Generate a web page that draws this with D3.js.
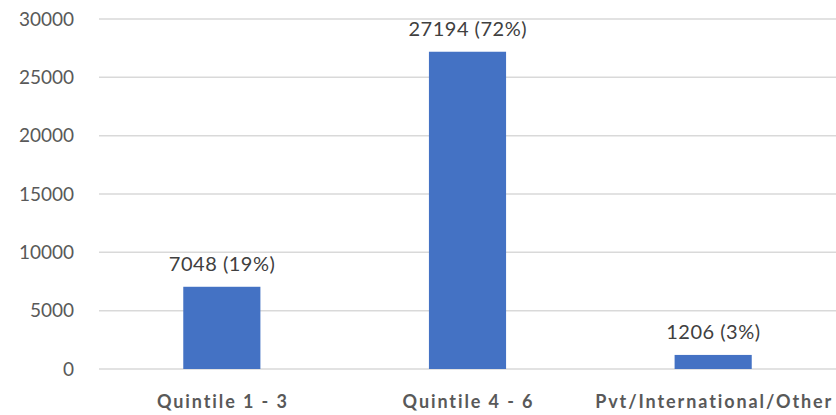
<!DOCTYPE html>
<html><head><meta charset="utf-8">
<script src="https://cdn.jsdelivr.net/npm/d3@7"></script>
<style>body{margin:0;background:#fff}svg{display:block}</style>
</head><body>
<script>
const categories = ["Quintile 1 - 3", "Quintile 4 - 6", "Pvt/International/Other"];
const values = [7048, 27194, 1206];
const percents = ["19%", "72%", "3%"];
const yTicks = [0, 5000, 10000, 15000, 20000, 25000, 30000];

const W = 836, H = 415;
const FONT = "Lato, 'Open Sans', sans-serif";
const svg = d3.select("body").append("svg").attr("width", W).attr("height", H);

const x = d3.scaleBand().domain(categories).range([99, 836]).paddingInner(0.686).paddingOuter(0.343);
const y = d3.scaleLinear().domain([0, 30000]).range([369, 19]);

// gridlines
svg.append("g").selectAll("line").data(yTicks).join("line")
  .attr("x1", 99).attr("x2", 836)
  .attr("y1", d => y(d)).attr("y2", d => y(d))
  .attr("stroke", "#d9d9d9").attr("stroke-width", 1.5);

// y axis labels
const yAxis = d3.axisLeft(y).tickValues(yTicks).tickSize(0).tickPadding(0).tickFormat(d3.format("d"));
const gy = svg.append("g").attr("transform", "translate(74,0)").call(yAxis);
gy.select(".domain").remove();
gy.selectAll("text").attr("fill", "#595959").style("font-family", FONT).style("font-size", "19px");

// bars
svg.append("g").selectAll("rect").data(values).join("rect")
  .attr("x", (d, i) => x(categories[i]))
  .attr("width", x.bandwidth())
  .attr("y", d => y(d))
  .attr("height", d => y(0) - y(d))
  .attr("fill", "#4472c4");

// data labels
svg.append("g").selectAll("text").data(values).join("text")
  .attr("x", (d, i) => x(categories[i]) + x.bandwidth() / 2 + 0.25)
  .attr("y", d => y(d) - 23)
  .attr("dy", "0.35em")
  .attr("text-anchor", "middle")
  .attr("fill", "#404040")
  .style("font-family", FONT).style("font-size", "20px").style("letter-spacing", "0.5px")
  .text((d, i) => `${d} (${percents[i]})`);

// x axis labels
const xAxis = d3.axisBottom(x).tickSize(0).tickPadding(0);
const gx = svg.append("g").attr("transform", "translate(1,395)").call(xAxis);
gx.select(".domain").remove();
gx.selectAll("text").attr("fill", "#595959").style("font-family", FONT).style("font-size", "18px")
  .style("font-weight", "bold").style("letter-spacing", "1.9px");
</script>
</body></html>
